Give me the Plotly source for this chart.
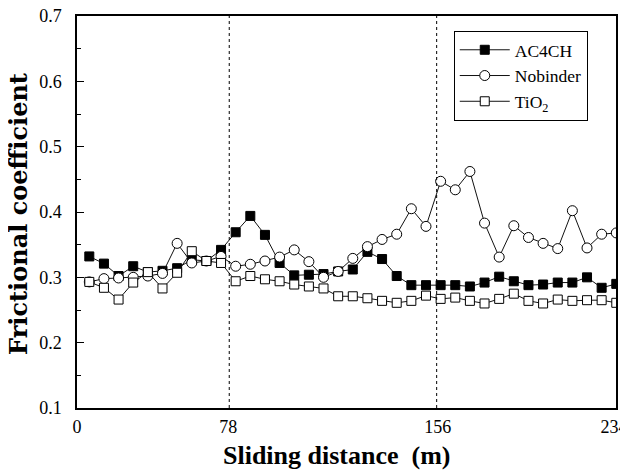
import plotly.graph_objects as go

# ---- data ----
point_index = list(range(37))
ac4ch = [0.332, 0.321, 0.302, 0.317, 0.308, 0.310, 0.314, 0.327, 0.325, 0.342,
         0.369, 0.394, 0.365, 0.322, 0.303, 0.304, 0.305, 0.309, 0.312, 0.339,
         0.328, 0.302, 0.288, 0.288, 0.288, 0.288, 0.286, 0.292, 0.301, 0.294,
         0.288, 0.289, 0.292, 0.292, 0.300, 0.284, 0.290]
nobinder = [0.293, 0.298, 0.299, 0.300, 0.302, 0.306, 0.352, 0.322, 0.325, 0.332,
            0.317, 0.320, 0.325, 0.331, 0.342, 0.324, 0.300, 0.309, 0.329, 0.347,
            0.358, 0.366, 0.405, 0.378, 0.447, 0.434, 0.462, 0.383, 0.331, 0.379,
            0.361, 0.352, 0.344, 0.402, 0.345, 0.366, 0.368]
tio2 = [0.293, 0.284, 0.266, 0.292, 0.308, 0.283, 0.307, 0.340, 0.325, 0.322,
        0.294, 0.302, 0.297, 0.294, 0.289, 0.286, 0.283, 0.271, 0.271, 0.268,
        0.264, 0.261, 0.264, 0.272, 0.267, 0.269, 0.264, 0.260, 0.267, 0.275,
        0.264, 0.260, 0.266, 0.264, 0.265, 0.265, 0.261]

x_tick_pos = [-0.84, 9.5, 23.8, 35.85]
x_tick_text = ["0", "78", "156", "234"]
stage_dividers = [9.56, 23.73]
y_ticks = [0.1, 0.2, 0.3, 0.4, 0.5, 0.6, 0.7]

FONT = "Liberation Serif, Times New Roman, serif"

fig = go.Figure()
fig.add_trace(go.Scatter(
    x=point_index, y=ac4ch, name="AC4CH", mode="lines+markers",
    line=dict(color="#111", width=1),
    marker=dict(symbol="square", size=9, color="#000",
                line=dict(color="#000", width=1))))
fig.add_trace(go.Scatter(
    x=point_index, y=nobinder, name="Nobinder", mode="lines+markers",
    line=dict(color="#111", width=1),
    marker=dict(symbol="circle", size=10, color="white",
                line=dict(color="#000", width=1))))
fig.add_trace(go.Scatter(
    x=point_index, y=tio2, name="TiO<sub>2</sub>", mode="lines+markers",
    line=dict(color="#111", width=1),
    marker=dict(symbol="square", size=9, color="white",
                line=dict(color="#000", width=1))))

for xv in stage_dividers:
    fig.add_shape(type="line", xref="x", yref="paper", x0=xv, x1=xv, y0=0, y1=1,
                  line=dict(color="#000", width=1, dash="dot"))

# axis titles as annotations for exact placement
fig.add_annotation(text="<b>Sliding distance  (m)</b>", xref="paper", yref="paper",
                   x=0.483, y=-0.12, xanchor="center", yanchor="middle",
                   showarrow=False, font=dict(family=FONT, size=26, color="#000"))
fig.add_annotation(text="<b>Frictional coefficient</b>", xref="paper", yref="paper",
                   x=-0.1076, y=0.495, xanchor="center", yanchor="middle",
                   textangle=-90, showarrow=False,
                   font=dict(family="DejaVu Serif, serif", size=24, color="#000"))

fig.update_layout(
    width=620, height=465,
    margin=dict(l=69, r=12, t=8, b=65),
    paper_bgcolor="white", plot_bgcolor="white",
    font=dict(family=FONT, size=18, color="#000"),
    showlegend=True,
    legend=dict(x=0.699, y=0.962, xanchor="left", yanchor="top",
                bgcolor="white", bordercolor="#000", borderwidth=1,
                font=dict(family=FONT, size=17.5, color="#000"),
                itemwidth=50, entrywidth=100, tracegroupgap=0),
    xaxis=dict(range=[-0.84, 35.98], tickmode="array",
               tickvals=x_tick_pos, ticktext=x_tick_text,
               ticks="", showgrid=False, zeroline=False, automargin=False,
               showline=True, linecolor="#000", linewidth=1.5, mirror=True,
               tickfont=dict(family=FONT, size=18),
               ticklabeloverflow="allow", ticklabelstandoff=2),
    yaxis=dict(range=[0.1, 0.7], tickmode="array", tickvals=y_ticks,
               ticktext=[f"{v:.1f}" for v in y_ticks],
               ticks="inside", ticklen=7, tickwidth=1, tickcolor="#000",
               minor=dict(ticks="inside", ticklen=4, dtick=0.05, tick0=0.1,
                          tickcolor="#000", tickwidth=1, showgrid=False),
               showgrid=False, zeroline=False, automargin=False,
               showline=True, linecolor="#000", linewidth=1.5, mirror=True,
               tickfont=dict(family=FONT, size=18),
               ticklabeloverflow="allow", ticklabelstandoff=10),
)

fig.write_html("out.html")
